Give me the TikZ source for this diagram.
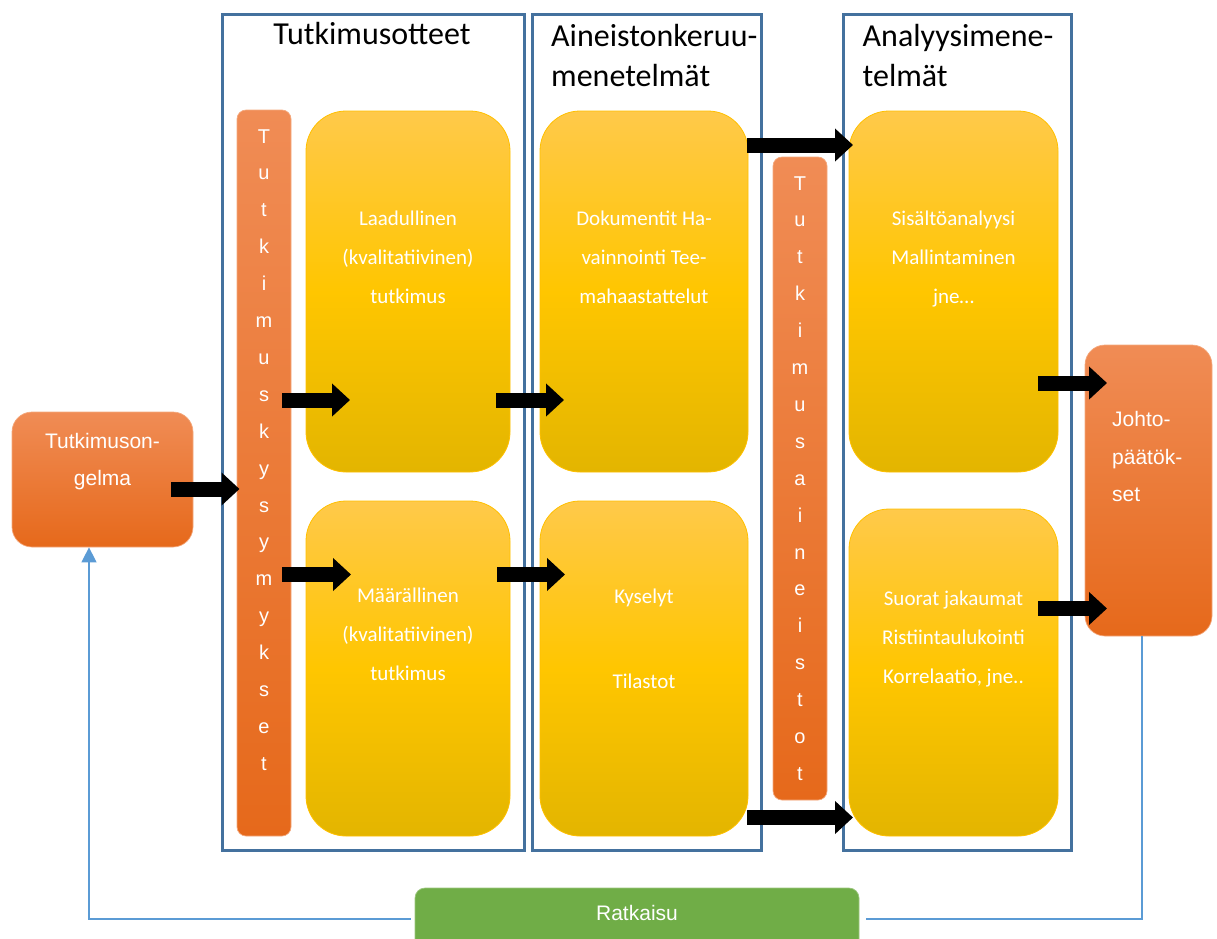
\documentclass[tikz,border=0pt]{standalone}
\usepackage{fontspec}
\setmainfont{Carlito}
\newfontfamily\arialfont{Liberation Sans}
\usetikzlibrary{arrows.meta}

\definecolor{frameblue}{HTML}{44719E}
\definecolor{linkblue}{HTML}{5B9BD5}
\definecolor{ytop}{HTML}{FFC94A}
\definecolor{ymid}{HTML}{FFC600}
\definecolor{ybot}{HTML}{E3B500}
\definecolor{yedge}{HTML}{FFC000}
\definecolor{otop}{HTML}{F08C55}
\definecolor{obot}{HTML}{E6691B}
\definecolor{oedge}{HTML}{F4A97E}
\definecolor{solgreen}{HTML}{70AD47}

\tikzset{
  frame/.style={draw=frameblue, line width=3pt, inner sep=0pt},
  ybox/.style={draw=yedge, line width=0.8pt, rounded corners=40pt,
    top color=ytop, bottom color=ybot, middle color=ymid, inner sep=0pt},
  obox/.style={draw=oedge, line width=0.7pt, top color=otop, bottom color=obot, inner sep=0pt},
  gbox/.style={draw=solgreen!70!white, line width=0.7pt, fill=solgreen, rounded corners=10pt, inner sep=0pt},
  title/.style={font=\fontsize{32}{40}\selectfont, inner sep=0pt},
  ytext/.style={text=white, font=\fontsize{21}{39}\selectfont, text width=200pt,
    align=flush center, anchor=base, inner sep=0pt},
  bartext/.style={text=white, font=\arialfont\fontsize{20}{36.9}\selectfont, text width=30pt,
    align=flush center, anchor=base, inner sep=0pt},
  otext/.style={text=white, font=\arialfont\fontsize{21}{37.5}\selectfont, inner sep=0pt},
  blockarr/.style={draw=black, line width=15pt, -{Triangle[length=18pt,width=32pt]}},
  feedback/.style={draw=linkblue, line width=1.2pt},
}

\begin{document}
\begin{tikzpicture}[x=1pt,y=-1pt]
\useasboundingbox (0,0) rectangle (1217,938);

% column frames
\node[frame, minimum width=302pt, minimum height=836pt] (fr1) at (373.5,432.5) {};
\node[frame, minimum width=229pt, minimum height=836pt] (fr2) at (646.5,432.5) {};
\node[frame, minimum width=228pt, minimum height=836pt] (fr3) at (957.5,432.5) {};

% column titles
\node[title, anchor=base] (t1) at (372,44) {Tutkimusotteet};
\node[title, anchor=base west, text width=220pt, align=left] (t2) at (551,46.5) {Aineistonkeruu-\\menetelmät};
\node[title, anchor=base west, text width=205pt, align=left] (t3) at (862.5,46.5) {Analyysimene-\\telmät};

% method boxes
\node[ybox, minimum width=204pt, minimum height=361pt] (laad) at (408,291.5) {};
\node[ybox, minimum width=204pt, minimum height=335pt] (maar) at (408,668.5) {};
\node[ybox, minimum width=208pt, minimum height=361pt] (doku) at (644,291.5) {};
\node[ybox, minimum width=208pt, minimum height=335pt] (kys)  at (644,668.5) {};
\node[ybox, minimum width=209pt, minimum height=361pt] (sis)  at (953.5,291.5) {};
\node[ybox, minimum width=209pt, minimum height=327pt] (suor) at (953.5,672.5) {};

\node[ytext] (laadT) at (laad |- 0,225) {Laadullinen\\(kvalitatiivinen)\\tutkimus};
\node[ytext] (maarT) at (maar |- 0,602) {Määrällinen\\(kvalitatiivinen)\\tutkimus};
\node[ytext] (dokuT) at (doku |- 0,225) {Dokumentit Ha-\\vainnointi Tee-\\mahaastattelut};
\node[ytext] (kysT)  at (kys |- 0,603) {Kyselyt\\[46pt]Tilastot};
\node[ytext] (sisT)  at (sis |- 0,225) {Sisältöanalyysi\\Mallintaminen\\jne…};
\node[ytext] (suorT) at (suor |- 0,605) {Suorat jakaumat\\Ristiintaulukointi\\Korrelaatio, jne..};

% vertical bars
\node[obox, rounded corners=9pt, minimum width=54pt, minimum height=726pt] (bar1) at (264,473) {};
\node[obox, rounded corners=9pt, minimum width=54pt, minimum height=643pt] (bar2) at (800,478.5) {};
\node[bartext] (bar1T) at (bar1 |- 0,143) {T\\u\\t\\k\\i\\m\\u\\s\\k\\y\\s\\y\\m\\y\\k\\s\\e\\t};
\node[bartext] (bar2T) at (bar2 |- 0,190) {T\\u\\t\\k\\i\\m\\u\\s\\a\\i\\n\\e\\i\\s\\t\\o\\t};

% problem and conclusions
\node[obox, rounded corners=20pt, minimum width=181pt, minimum height=135pt] (prob) at (102.5,479.5) {};
\node[otext, text width=175pt, align=flush center, anchor=base] (probT) at (prob |- 0,448.3) {Tutkimuson-\\gelma};
\node[obox, rounded corners=20pt, minimum width=127pt, minimum height=291pt] (concl) at (1148.5,490.5) {};
\node[otext, text width=95pt, align=left, anchor=base west] (conclT) at (1112,426.7) {Johto-\\päätök-\\set};

% solution
\node[gbox, minimum width=444pt, minimum height=100pt] (ratk) at (637,938) {};
\node[otext, anchor=base] (ratkT) at (ratk |- 0,920.7) {Ratkaisu};

% block arrow end points
\coordinate (a0s) at (171,489);    \coordinate (a0e) at (239.5,489);
\coordinate (a1s) at (282,400);    \coordinate (a1e) at (350,400);
\coordinate (a2s) at (282,574.5);  \coordinate (a2e) at (351,574.5);
\coordinate (a3s) at (496,400);    \coordinate (a3e) at (564,400);
\coordinate (a4s) at (497,574.5);  \coordinate (a4e) at (565,574.5);
\coordinate (a5s) at (747,145);    \coordinate (a5e) at (853,145);
\coordinate (a6s) at (747,817.5);  \coordinate (a6e) at (853,817.5);
\coordinate (a7s) at (1038,383);   \coordinate (a7e) at (1107,383);
\coordinate (a8s) at (1038,608.5); \coordinate (a8e) at (1107,608.5);

\foreach \k in {0,...,8} \draw[blockarr] (a\k s) -- (a\k e);

% feedback loop
\coordinate (fbL) at (89,919);
\coordinate (fbR) at (1142,919);
\draw[feedback, -{Triangle[length=15pt,width=15pt]}]
  ([xshift=-4pt]ratk.west |- fbL) -| (prob.south -| fbL);
\draw[feedback] (concl.south -| fbR) |- ([xshift=7pt]ratk.east |- fbR);
\end{tikzpicture}
\end{document}
